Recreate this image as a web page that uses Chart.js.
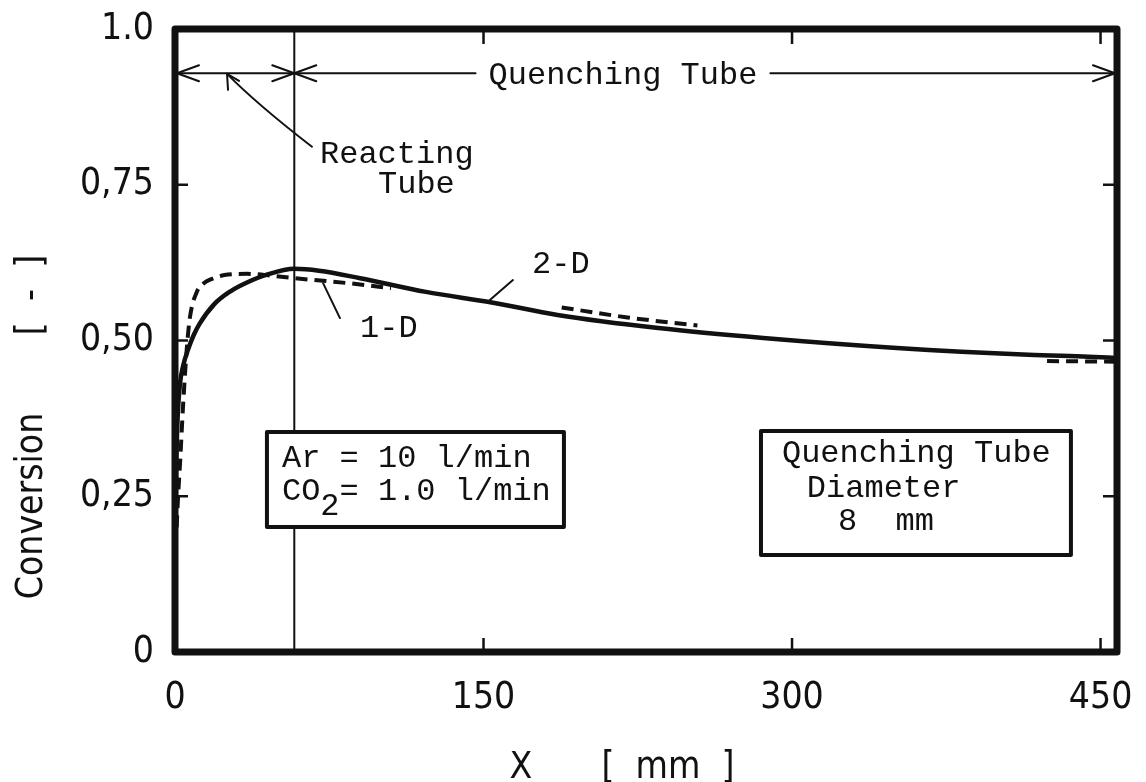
<!DOCTYPE html>
<html>
<head>
<meta charset="utf-8">
<script src="https://cdn.jsdelivr.net/npm/chart.js@4.4.0/dist/chart.umd.min.js"></script>
<style>
  html, body { margin: 0; padding: 0; background: #fff; }
</style>
</head>
<body>
<canvas id="conv" width="1146" height="782"></canvas>
<script>
// axis ticks
const xTickValues = [0, 150, 300, 450];
const xTickLabels = ['0', '150', '300', '450'];
const yTickValues = [0, 0.25, 0.5, 0.75, 1.0];
const yTickLabels = ['0', '0,25', '0,50', '0,75', '1.0'];

// 2-D model (solid)
const x2D = [0, 0.6, 1.2, 2.4, 4, 6.3, 9, 12, 19, 27, 35, 45, 58, 70, 90, 122, 154, 186, 235, 286, 351, 415, 444, 458];
const y2D = [0.15, 0.30, 0.37, 0.43, 0.46, 0.485, 0.508, 0.527, 0.558, 0.579, 0.593, 0.606, 0.615, 0.612, 0.600, 0.578, 0.561, 0.541, 0.520, 0.504, 0.488, 0.477, 0.474, 0.472];

// 1-D model (dashed) - only visible where it leaves the 2-D curve
const x1D = [0.8, 1.5, 2.4, 4, 5.8, 7.3, 10.6, 14, 18, 24, 35, 47, 58, 75, 90, 105, 140, 188, 220, 254, 340, 424, 458];
const y1D = [0.20, 0.25, 0.30, 0.40, 0.49, 0.538, 0.578, 0.592, 0.599, 0.605, 0.607, 0.604, 0.600, 0.595, 0.590, 0.584, null, 0.553, 0.537, 0.524, null, 0.467, 0.466];

const ink = '#111';
const tickFont = { family: "'Liberation Sans Narrow', 'DejaVu Sans Condensed', sans-serif", size: 37 };
const noteFont = "32px 'Liberation Mono', 'Courier New', monospace";
const titleFont = "37px 'Liberation Sans Narrow', 'DejaVu Sans Condensed', sans-serif";

const reactEnd = 58;      // end of reacting tube [mm]
const arrowLevel = 0.929; // height of the tube arrows

function seg(ctx, x1, y1, x2, y2) {
  ctx.beginPath(); ctx.moveTo(x1, y1); ctx.lineTo(x2, y2); ctx.stroke();
}
function head(ctx, tx, ty, dir) {
  ctx.beginPath();
  ctx.moveTo(tx - dir * 22, ty - 8); ctx.lineTo(tx, ty); ctx.lineTo(tx - dir * 22, ty + 8);
  ctx.stroke();
}

const decor = {
  id: 'decor',
  afterDraw(chart) {
    const { ctx, chartArea: a, scales: { x, y } } = chart;
    const px = v => x.getPixelForValue(v);
    const py = v => y.getPixelForValue(v);
    ctx.save();
    ctx.strokeStyle = ink;
    ctx.fillStyle = ink;
    ctx.lineCap = 'round';
    ctx.lineJoin = 'round';

    // divider between reacting and quenching tube
    ctx.lineWidth = 2;
    seg(ctx, px(reactEnd), a.top, px(reactEnd), a.bottom);

    // tube arrows + label
    ctx.font = noteFont;
    ctx.textBaseline = 'middle';
    ctx.textAlign = 'center';
    const ay = py(arrowLevel);
    const qText = 'Quenching Tube';
    const qx = px(217.8);
    const qw = ctx.measureText(qText).width;
    ctx.fillText(qText, qx, ay + 2);
    seg(ctx, a.left, ay, px(reactEnd), ay);
    seg(ctx, px(reactEnd), ay, qx - qw / 2 - 13, ay);
    seg(ctx, qx + qw / 2 + 13, ay, a.right, ay);
    head(ctx, a.left + 2, ay, -1);
    head(ctx, px(reactEnd), ay, 1);
    head(ctx, px(reactEnd), ay, -1);
    head(ctx, a.right - 2, ay, 1);

    // Reacting Tube note with curved pointer
    ctx.textAlign = 'left';
    ctx.textBaseline = 'alphabetic';
    ctx.fillText('Reacting', px(70.5), py(0.785));
    ctx.fillText('Tube', px(98.7), py(0.737));
    ctx.beginPath();
    ctx.moveTo(px(66.6), py(0.811));
    ctx.quadraticCurveTo(px(39.6), py(0.880), px(25.3), py(0.928));
    ctx.stroke();
    const tx = px(25.3), ty = py(0.928);
    seg(ctx, tx, ty, tx + 1, ty + 16);
    seg(ctx, tx, ty, tx + 12, ty + 7);

    // curve labels
    ctx.fillText('2-D', px(173.6), py(0.608));
    seg(ctx, px(164.3), py(0.597), px(153.1), py(0.565));
    ctx.fillText('1-D', px(90), py(0.506));
    seg(ctx, px(80.2), py(0.536), px(72), py(0.592));

    // boxes
    ctx.lineWidth = 4;
    ctx.lineCap = 'butt';
    const box = (x0, y0, x1, y1) => {
      const l = px(x0), t = py(y0), r = px(x1), b = py(y1);
      ctx.fillStyle = '#fff';
      ctx.fillRect(l, t, r - l, b - t);
      ctx.strokeRect(l, t, r - l, b - t);
      ctx.fillStyle = ink;
    };
    box(44.7, 0.353, 189.1, 0.2006);
    ctx.fillText('Ar = 10 l/min', px(52), py(0.297));
    let cx = px(52);
    ctx.fillText('CO', cx, py(0.244));
    cx += ctx.measureText('CO').width;
    ctx.fillText('2', cx, py(0.220));
    cx += ctx.measureText('2').width;
    ctx.fillText('= 1.0 l/min', cx, py(0.244));

    box(284.9, 0.3547, 435.6, 0.1557);
    ctx.fillText('Quenching Tube', px(295.1), py(0.305));
    ctx.fillText('Diameter', px(307.2), py(0.249));
    ctx.fillText('8  mm', px(322.3), py(0.196));

    // inward tick marks
    ctx.lineWidth = 2.5;
    xTickValues.slice(1).forEach(v => {
      seg(ctx, px(v), a.bottom, px(v), a.bottom - 14);
      seg(ctx, px(v), a.top, px(v), a.top + 15);
    });
    yTickValues.slice(1, -1).forEach(v => {
      seg(ctx, a.left, py(v), a.left + 13, py(v));
      seg(ctx, a.right, py(v), a.right - 14, py(v));
    });

    // frame
    ctx.lineWidth = 7;
    ctx.lineJoin = 'round';
    ctx.strokeRect(a.left, a.top, a.right - a.left, a.bottom - a.top);

    // axis titles
    ctx.font = titleFont;
    ctx.textAlign = 'center';
    ctx.textBaseline = 'middle';
    ctx.fillText('X', 521, 768);
    ctx.fillText('[  mm  ]', 668, 768);
    ctx.save();
    ctx.translate(32, 0);
    ctx.rotate(-Math.PI / 2);
    ctx.fillText('Conversion', -506, 0);
    ctx.fillText('[  -  ]', -295, 0);
    ctx.restore();

    ctx.restore();
  }
};

new Chart(document.getElementById('conv'), {
  type: 'line',
  data: {
    datasets: [
      {
        label: '2-D',
        data: x2D.map((v, i) => ({ x: v, y: y2D[i] })),
        borderColor: ink,
        borderWidth: 4.5,
        pointRadius: 0,
        cubicInterpolationMode: 'monotone',
        fill: false
      },
      {
        label: '1-D',
        data: x1D.map((v, i) => ({ x: v, y: y1D[i] })),
        borderColor: ink,
        borderWidth: 4,
        borderDash: [12, 7],
        pointRadius: 0,
        spanGaps: false,
        cubicInterpolationMode: 'monotone',
        fill: false
      }
    ]
  },
  options: {
    responsive: false,
    animation: false,
    devicePixelRatio: 1,
    layout: { padding: { left: 0, right: 29, top: 29, bottom: 0 } },
    plugins: { legend: { display: false }, tooltip: { enabled: false } },
    scales: {
      x: {
        type: 'linear',
        min: 0,
        max: 458,
        afterBuildTicks: s => { s.ticks = xTickValues.map(v => ({ value: v })); },
        afterFit: s => { s.height = 130; s.paddingLeft = 0; s.paddingRight = 0; },
        grid: { display: false },
        border: { display: false },
        ticks: {
          callback: (v, i) => xTickLabels[i],
          font: tickFont,
          color: ink,
          padding: 16,
          maxRotation: 0,
          autoSkip: false
        }
      },
      y: {
        min: 0,
        max: 1,
        afterBuildTicks: s => { s.ticks = yTickValues.map(v => ({ value: v })); },
        afterFit: s => { s.width = 175; s.paddingTop = 0; s.paddingBottom = 0; },
        grid: { display: false },
        border: { display: false },
        ticks: {
          callback: (v, i) => yTickLabels[i],
          font: tickFont,
          color: ink,
          padding: 13,
          autoSkip: false
        }
      }
    }
  },
  plugins: [decor]
});
</script>
</body>
</html>
